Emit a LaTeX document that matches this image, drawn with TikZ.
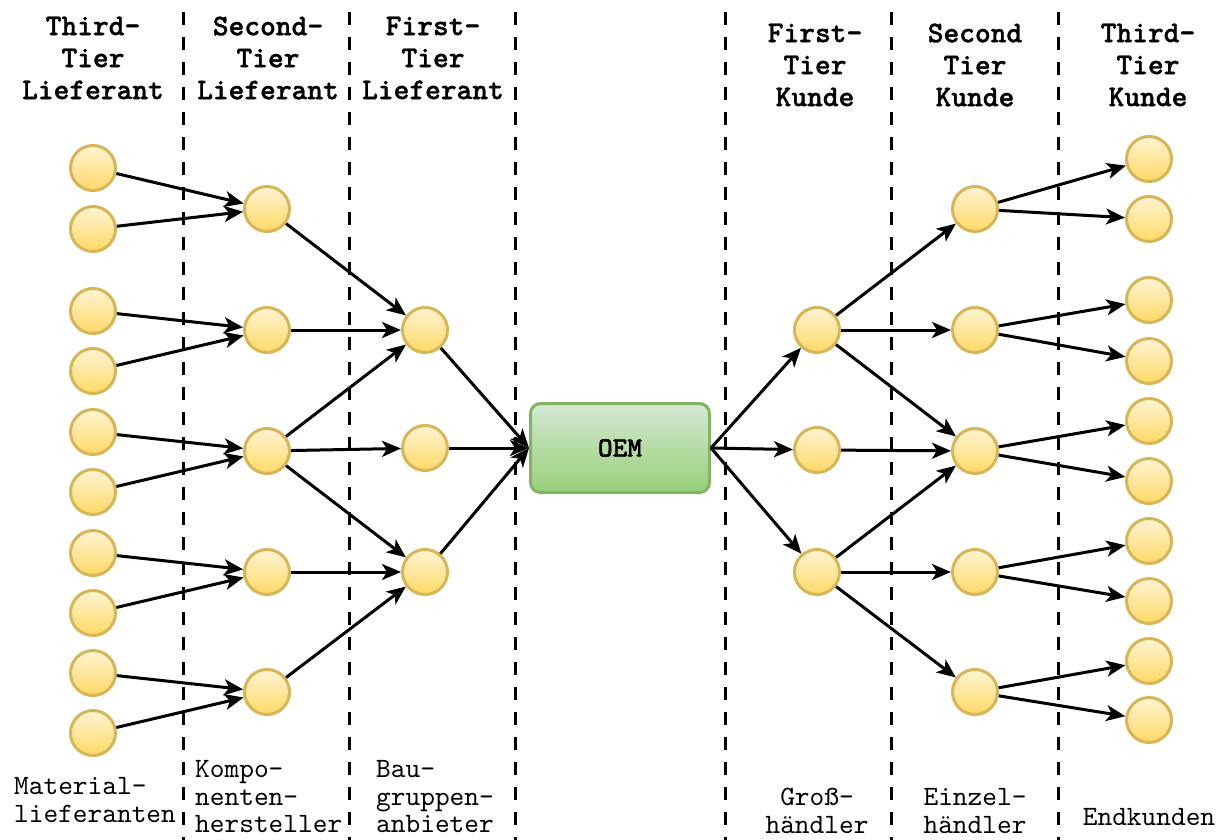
\documentclass[tikz,border=0pt]{standalone}
\usepackage{fontspec}
\usetikzlibrary{arrows.meta}
\newfontfamily\headfont{lmmonolt10-bold.otf}[FakeBold=1.2]
\newfontfamily\bodyfont{lmmono10-regular.otf}
\definecolor{dotTop}{HTML}{FFF4D2}
\definecolor{dotBot}{HTML}{FFD966}
\definecolor{dotLine}{HTML}{D6B656}
\definecolor{oemTop}{HTML}{D5E8D4}
\definecolor{oemBot}{HTML}{97D077}
\definecolor{oemLine}{HTML}{82B366}
\tikzset{
  dot/.style={circle, minimum size=45pt, inner sep=0pt, draw=dotLine, line width=3pt,
              top color=dotTop, bottom color=dotBot},
  oembox/.style={rectangle, rounded corners=10pt, minimum width=179pt, minimum height=89pt,
              draw=oemLine, line width=3pt, top color=oemTop, bottom color=oemBot,
              font=\headfont\fontsize{28}{30}\selectfont},
  flow/.style={line width=3pt, -{Stealth[length=19pt,width=16pt,inset=5pt]}},
  divider/.style={line width=3pt, dash pattern=on 13pt off 12pt},
  hdr/.style={align=center, inner sep=0pt, font=\headfont\fontsize{30}{32}\selectfont},
  ftr/.style={align=left, inner sep=0pt, font=\bodyfont\fontsize{28}{27.5}\selectfont},
  ftrc/.style={align=center, inner sep=0pt, font=\bodyfont\fontsize{28}{27.5}\selectfont}
}
\begin{document}
\begin{tikzpicture}[x=1pt, y=-1pt]
\useasboundingbox (0,0) rectangle (1224,840);

% tier separators
\foreach \xx in {183,349,515,725,891,1058}
  \draw[divider] (\xx,12) -- (\xx,840);

% column headings
\node[hdr] at (93,58)   {Third-\\Tier\\Lieferant};
\node[hdr] at (268,58)  {Second-\\Tier\\Lieferant};
\node[hdr] at (433,58)  {First-\\Tier\\Lieferant};
\node[hdr] at (815,65)  {First-\\Tier\\Kunde};
\node[hdr] at (975,65)  {Second\\Tier\\Kunde};
\node[hdr] at (1148,65) {Third-\\Tier\\Kunde};

% column footers
\node[ftr, anchor=west] at (14,800)  {Material-\\lieferanten};
\node[ftr, anchor=west] at (195,797) {Kompo-\\nenten-\\hersteller};
\node[ftr, anchor=west] at (376,797) {Bau-\\gruppen-\\anbieter};
\node[ftrc] at (817,811)  {Groß-\\händler};
\node[ftrc] at (975,811)  {Einzel-\\händler};
\node[ftrc] at (1149,817) {Endkunden};

% supplier side
\foreach \i/\yy in {1/168,2/229,3/311,4/371,5/432,6/492,7/553,8/613,9/673,10/733}
  \node[dot] (s3\i) at (93,\yy) {};
\foreach \i/\yy in {1/209,2/330,3/451,4/572,5/692}
  \node[dot] (s2\i) at (267,\yy) {};
\foreach \i/\yy in {1/330,2/448,3/572}
  \node[dot] (s1\i) at (425,\yy) {};

\node[oembox] (oem) at (620,448) {OEM};

% customer side
\foreach \i/\yy in {1/330,2/450,3/572}
  \node[dot] (k1\i) at (817,\yy) {};
\foreach \i/\yy in {1/209,2/330,3/451,4/572,5/692}
  \node[dot] (k2\i) at (975,\yy) {};
\foreach \i/\yy in {1/159,2/219,3/300,4/361,5/421,6/481,7/541,8/601,9/661,10/720}
  \node[dot] (k3\i) at (1149,\yy) {};

% material suppliers -> component makers
\foreach \a/\b in {1/1,2/1,3/2,4/2,5/3,6/3,7/4,8/4,9/5,10/5}
  \draw[flow] (s3\a) -- (s2\b);
% component makers -> assembly suppliers
\foreach \a/\b in {1/1,2/1,3/1,3/2,3/3,4/3,5/3}
  \draw[flow] (s2\a) -- (s1\b);
% assembly suppliers -> OEM
\foreach \a in {1,2,3}
  \draw[flow] (s1\a) -- (oem.west);
% OEM -> wholesalers
\foreach \b in {1,2,3}
  \draw[flow] (oem.east) -- (k1\b);
% wholesalers -> retailers
\foreach \a/\b in {1/1,1/2,1/3,2/3,3/3,3/4,3/5}
  \draw[flow] (k1\a) -- (k2\b);
% retailers -> end customers
\foreach \a/\b in {1/1,1/2,2/3,2/4,3/5,3/6,4/7,4/8,5/9,5/10}
  \draw[flow] (k2\a) -- (k3\b);
\end{tikzpicture}
\end{document}
